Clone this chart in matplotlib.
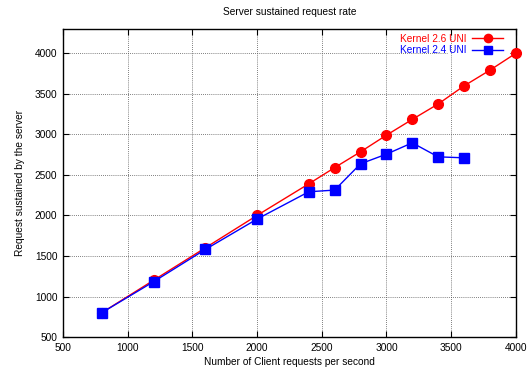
import matplotlib
matplotlib.use('Agg')
import matplotlib.pyplot as plt

plt.rcParams['font.family'] = ['Liberation Sans', 'DejaVu Sans']

clients = [800, 1200, 1600, 2000, 2400, 2600, 2800, 3000, 3200, 3400, 3600, 3800, 4000]
k26 = [800, 1200, 1600, 2000, 2390, 2590, 2785, 2990, 3185, 3375, 3598, 3792, 4000]
clients24 = [800, 1200, 1600, 2000, 2400, 2600, 2800, 3000, 3200, 3400, 3600]
k24 = [800, 1182, 1580, 1955, 2292, 2313, 2637, 2756, 2896, 2723, 2711]

xticks = [500, 1000, 1500, 2000, 2500, 3000, 3500, 4000]
yticks = [500, 1000, 1500, 2000, 2500, 3000, 3500, 4000]

FS = 7.3

fig = plt.figure(figsize=(5.29, 3.72), dpi=100)
ax = fig.add_axes([0.119, 0.094, 0.856, 0.828])

ax.plot(clients, k26, color='#ff0000', lw=1, marker='o', ms=7, label='Kernel 2.6 UNI',
        zorder=3, clip_on=False)
ax.plot(clients24, k24, color='#0000ff', lw=1, marker='s', ms=7, label='Kernel 2.4 UNI',
        zorder=4, clip_on=False)

ax.set_xlim(500, 4000)
ax.set_ylim(500, 4300)
ax.set_xticks(xticks)
ax.set_yticks(yticks)
ax.tick_params(direction='in', top=True, right=True, labelsize=FS, length=4, pad=4)

# dotted grid; the top row stops short of the key
grid = dict(color='#555555', ls=(0, (1, 1.5)), lw=0.6, zorder=1)
ax.vlines(xticks[1:-1], 500, 4300, **grid)
ax.hlines(yticks[1:-1], 500, 4000, **grid)
ax.hlines(yticks[-1], 500, 3470, **grid)
for s in ax.spines.values():
    s.set_linewidth(1)

ax.set_title('Server sustained request rate', fontsize=FS, pad=10)
ax.set_xlabel('Number of Client requests per second', fontsize=FS, labelpad=3)
ax.set_ylabel('Request sustained by the server', fontsize=FS, labelpad=7)

leg = ax.legend(loc='upper right', bbox_to_anchor=(0.976, 0.991), fontsize=FS, frameon=False,
                markerfirst=False, markerscale=0.85, handlelength=3, handletextpad=0.6,
                borderpad=0.2, labelspacing=0.15, borderaxespad=0)
for txt, c in zip(leg.get_texts(), ['#ff0000', '#0000ff']):
    txt.set_color(c)

fig.savefig('out.png', dpi=100)
